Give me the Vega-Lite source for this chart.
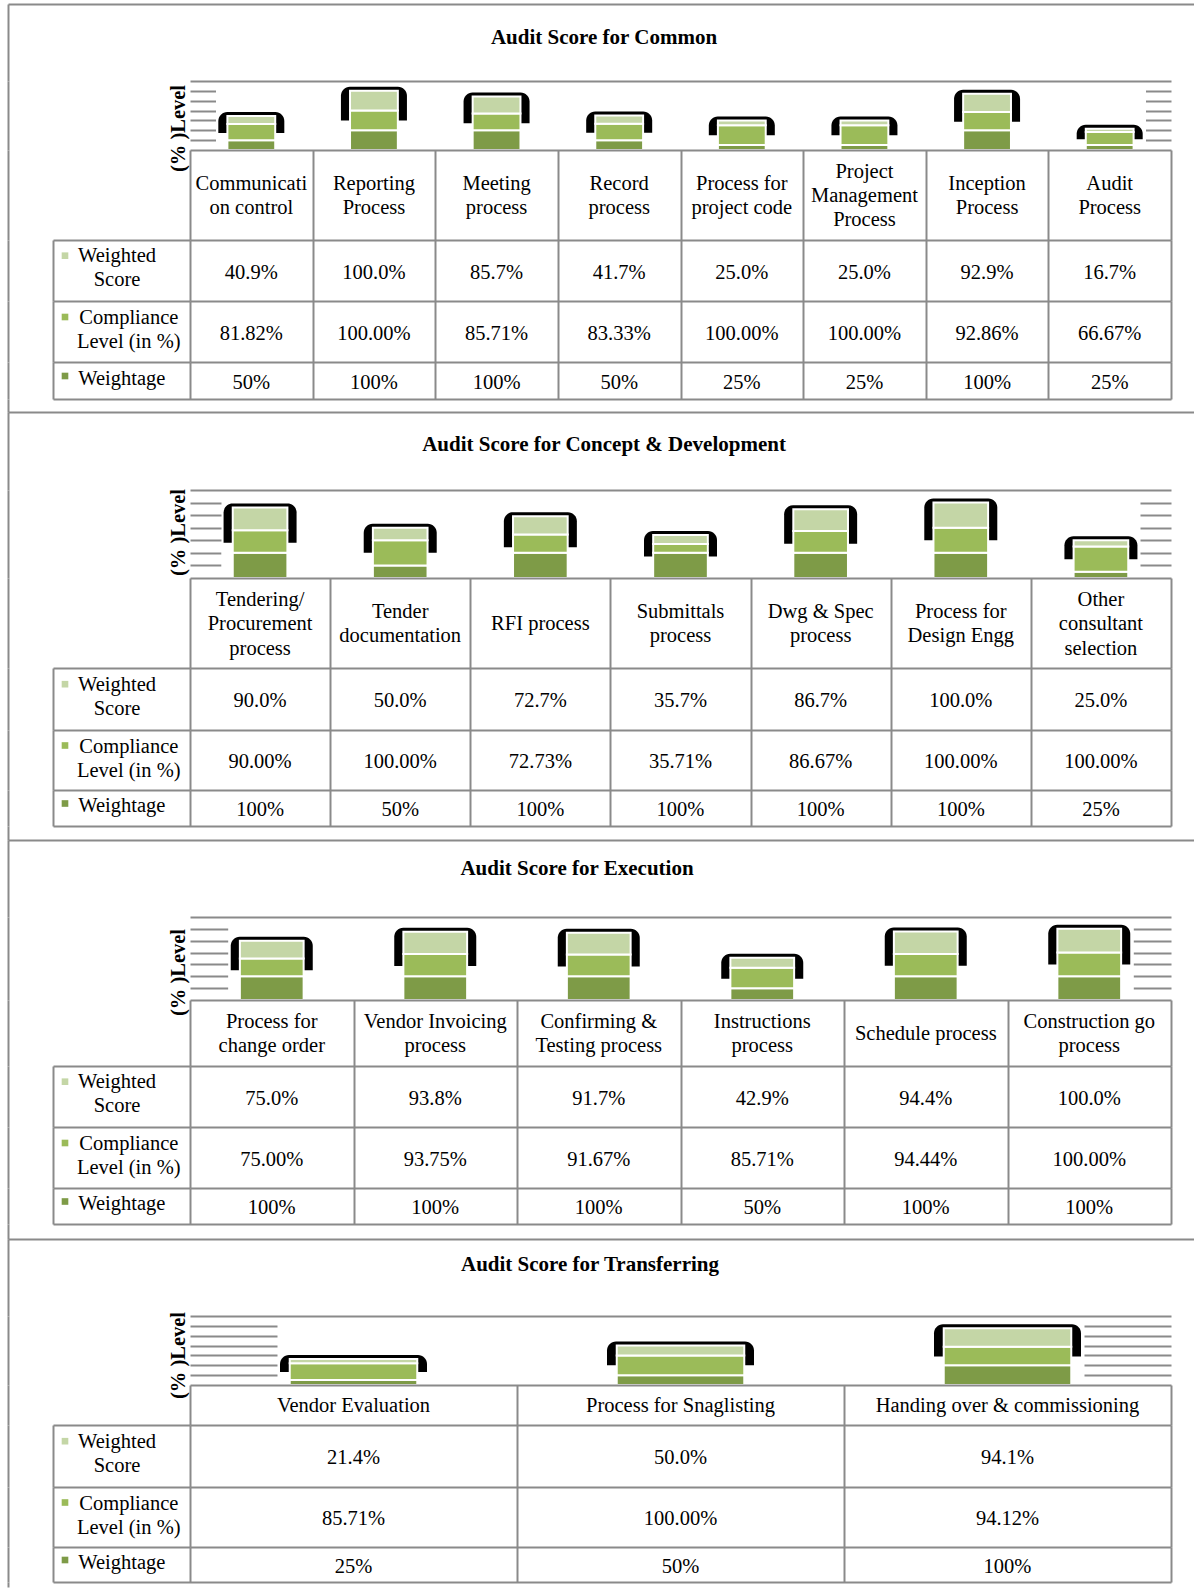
{
"$schema":"https://vega.github.io/schema/vega-lite/v6.json",
"padding":{"left":8,"top":4,"right":0,"bottom":0},
"bounds":"flush",
"spacing":0,
"config":{"view":{"stroke":null},"font":"Liberation Serif","text":{"font":"Liberation Serif","fontSize":20.5,"color":"#000000"},"axis":{"titleFont":"Liberation Serif"}},
"data":{"values":[{}]},
"datasets":{
"common":[
{"cat":"Communication control","measure":"Weightage","rank":1,"v":0.5},{"cat":"Communication control","measure":"Compliance Level (in %)","rank":2,"v":0.8182},{"cat":"Communication control","measure":"Weighted Score","rank":3,"v":0.409},
{"cat":"Reporting Process","measure":"Weightage","rank":1,"v":1},{"cat":"Reporting Process","measure":"Compliance Level (in %)","rank":2,"v":1},{"cat":"Reporting Process","measure":"Weighted Score","rank":3,"v":1},
{"cat":"Meeting process","measure":"Weightage","rank":1,"v":1},{"cat":"Meeting process","measure":"Compliance Level (in %)","rank":2,"v":0.8571},{"cat":"Meeting process","measure":"Weighted Score","rank":3,"v":0.857},
{"cat":"Record process","measure":"Weightage","rank":1,"v":0.5},{"cat":"Record process","measure":"Compliance Level (in %)","rank":2,"v":0.8333},{"cat":"Record process","measure":"Weighted Score","rank":3,"v":0.417},
{"cat":"Process for project code","measure":"Weightage","rank":1,"v":0.25},{"cat":"Process for project code","measure":"Compliance Level (in %)","rank":2,"v":1},{"cat":"Process for project code","measure":"Weighted Score","rank":3,"v":0.25},
{"cat":"Project Management Process","measure":"Weightage","rank":1,"v":0.25},{"cat":"Project Management Process","measure":"Compliance Level (in %)","rank":2,"v":1},{"cat":"Project Management Process","measure":"Weighted Score","rank":3,"v":0.25},
{"cat":"Inception Process","measure":"Weightage","rank":1,"v":1},{"cat":"Inception Process","measure":"Compliance Level (in %)","rank":2,"v":0.9286},{"cat":"Inception Process","measure":"Weighted Score","rank":3,"v":0.929},
{"cat":"Audit Process","measure":"Weightage","rank":1,"v":0.25},{"cat":"Audit Process","measure":"Compliance Level (in %)","rank":2,"v":0.6667},{"cat":"Audit Process","measure":"Weighted Score","rank":3,"v":0.167}
],
"common_h":[
{"cat":"Communication control","label":"Communicati|on control"},{"cat":"Reporting Process","label":"Reporting|Process"},{"cat":"Meeting process","label":"Meeting|process"},{"cat":"Record process","label":"Record|process"},{"cat":"Process for project code","label":"Process  for|project code"},{"cat":"Project Management Process","label":"Project|Management|Process"},{"cat":"Inception Process","label":"Inception|Process"},{"cat":"Audit Process","label":"Audit|Process"}
],
"concept":[
{"cat":"Tendering/Procurement process","measure":"Weightage","rank":1,"v":1},{"cat":"Tendering/Procurement process","measure":"Compliance Level (in %)","rank":2,"v":0.9},{"cat":"Tendering/Procurement process","measure":"Weighted Score","rank":3,"v":0.9},
{"cat":"Tender documentation","measure":"Weightage","rank":1,"v":0.5},{"cat":"Tender documentation","measure":"Compliance Level (in %)","rank":2,"v":1},{"cat":"Tender documentation","measure":"Weighted Score","rank":3,"v":0.5},
{"cat":"RFI process","measure":"Weightage","rank":1,"v":1},{"cat":"RFI process","measure":"Compliance Level (in %)","rank":2,"v":0.7273},{"cat":"RFI process","measure":"Weighted Score","rank":3,"v":0.727},
{"cat":"Submittals process","measure":"Weightage","rank":1,"v":1},{"cat":"Submittals process","measure":"Compliance Level (in %)","rank":2,"v":0.3571},{"cat":"Submittals process","measure":"Weighted Score","rank":3,"v":0.357},
{"cat":"Dwg & Spec process","measure":"Weightage","rank":1,"v":1},{"cat":"Dwg & Spec process","measure":"Compliance Level (in %)","rank":2,"v":0.8667},{"cat":"Dwg & Spec process","measure":"Weighted Score","rank":3,"v":0.867},
{"cat":"Process for Design Engg","measure":"Weightage","rank":1,"v":1},{"cat":"Process for Design Engg","measure":"Compliance Level (in %)","rank":2,"v":1},{"cat":"Process for Design Engg","measure":"Weighted Score","rank":3,"v":1},
{"cat":"Other consultant selection","measure":"Weightage","rank":1,"v":0.25},{"cat":"Other consultant selection","measure":"Compliance Level (in %)","rank":2,"v":1},{"cat":"Other consultant selection","measure":"Weighted Score","rank":3,"v":0.25}
],
"concept_h":[
{"cat":"Tendering/Procurement process","label":"Tendering/|Procurement|process"},{"cat":"Tender documentation","label":"Tender|documentation"},{"cat":"RFI process","label":"RFI process"},{"cat":"Submittals process","label":"Submittals|process"},{"cat":"Dwg & Spec process","label":"Dwg & Spec|process"},{"cat":"Process for Design Engg","label":"Process  for|Design Engg"},{"cat":"Other consultant selection","label":"Other|consultant|selection"}
],
"execution":[
{"cat":"Process for change order","measure":"Weightage","rank":1,"v":1},{"cat":"Process for change order","measure":"Compliance Level (in %)","rank":2,"v":0.75},{"cat":"Process for change order","measure":"Weighted Score","rank":3,"v":0.75},
{"cat":"Vendor Invoicing process","measure":"Weightage","rank":1,"v":1},{"cat":"Vendor Invoicing process","measure":"Compliance Level (in %)","rank":2,"v":0.9375},{"cat":"Vendor Invoicing process","measure":"Weighted Score","rank":3,"v":0.938},
{"cat":"Confirming & Testing process","measure":"Weightage","rank":1,"v":1},{"cat":"Confirming & Testing process","measure":"Compliance Level (in %)","rank":2,"v":0.9167},{"cat":"Confirming & Testing process","measure":"Weighted Score","rank":3,"v":0.917},
{"cat":"Instructions process","measure":"Weightage","rank":1,"v":0.5},{"cat":"Instructions process","measure":"Compliance Level (in %)","rank":2,"v":0.8571},{"cat":"Instructions process","measure":"Weighted Score","rank":3,"v":0.429},
{"cat":"Schedule process","measure":"Weightage","rank":1,"v":1},{"cat":"Schedule process","measure":"Compliance Level (in %)","rank":2,"v":0.9444},{"cat":"Schedule process","measure":"Weighted Score","rank":3,"v":0.944},
{"cat":"Construction go process","measure":"Weightage","rank":1,"v":1},{"cat":"Construction go process","measure":"Compliance Level (in %)","rank":2,"v":1},{"cat":"Construction go process","measure":"Weighted Score","rank":3,"v":1}
],
"execution_h":[
{"cat":"Process for change order","label":"Process  for|change order"},{"cat":"Vendor Invoicing process","label":"Vendor Invoicing|process"},{"cat":"Confirming & Testing process","label":"Confirming &|Testing process"},{"cat":"Instructions process","label":"Instructions|process"},{"cat":"Schedule process","label":"Schedule process"},{"cat":"Construction go process","label":"Construction  go|process"}
],
"transfer":[
{"cat":"Vendor Evaluation","measure":"Weightage","rank":1,"v":0.25},{"cat":"Vendor Evaluation","measure":"Compliance Level (in %)","rank":2,"v":0.8571},{"cat":"Vendor Evaluation","measure":"Weighted Score","rank":3,"v":0.214},
{"cat":"Process for Snaglisting","measure":"Weightage","rank":1,"v":0.5},{"cat":"Process for Snaglisting","measure":"Compliance Level (in %)","rank":2,"v":1},{"cat":"Process for Snaglisting","measure":"Weighted Score","rank":3,"v":0.5},
{"cat":"Handing over & commissioning","measure":"Weightage","rank":1,"v":1},{"cat":"Handing over & commissioning","measure":"Compliance Level (in %)","rank":2,"v":0.9412},{"cat":"Handing over & commissioning","measure":"Weighted Score","rank":3,"v":0.941}
],
"transfer_h":[
{"cat":"Vendor Evaluation","label":"Vendor Evaluation"},{"cat":"Process for Snaglisting","label":"Process for Snaglisting"},{"cat":"Handing over & commissioning","label":"Handing over & commissioning"}
]
},
"vconcat":[
{"width":1186,"height":77,"mark":{"type":"text","text":"Audit Score for Common","fontSize":21,"fontWeight":"bold","dx":3,"dy":-5},"encoding":{"x":{"datum":0.5,"type":"quantitative","scale":{"domain":[0,1]},"axis":{"orient":"top","domainColor":"#8a8a8a","domainWidth":2,"ticks":false,"labels":false,"grid":false,"title":null}},"y":{"datum":0.5,"type":"quantitative","scale":{"domain":[0,1]},"axis":{"orient":"left","domainColor":"#8a8a8a","domainWidth":2,"ticks":false,"labels":false,"grid":false,"title":null}}}},
{"width":1186,"height":69,"layer":[
{"data":{"name":"common"},"mark":{"type":"bar","color":"#000000","width":66,"cornerRadius":9,"yOffset":-4},"encoding":{"x":{"field":"cat","type":"nominal","sort":null,"scale":{"range":[182,1163],"paddingInner":0.61,"paddingOuter":0.305},"axis":{"orient":"top","domainColor":"#8a8a8a","domainWidth":2,"ticks":false,"labels":false,"grid":false,"title":null}},"y":{"aggregate":"sum","field":"v","type":"quantitative","scale":{"domain":[0,3.5],"nice":false},"axis":{"orient":"left","offset":-182,"values":[0.5,1,1.5,2,2.5,3],"tickSize":-25.5,"tickColor":"#8a8a8a","tickWidth":2,"labels":false,"domain":false,"grid":false,"title":"(% )Level","titleFontSize":20.5,"titleFontWeight":"bold","titleColor":"#000000","titleAngle":270,"titleX":-6,"titleY":47,"titleBaseline":"alphabetic","titleAlign":"center"}}}},
{"data":{"name":"common"},"mark":{"type":"bar","color":"#ffffff","width":70,"y2Offset":-3},"encoding":{"x":{"field":"cat","type":"nominal","sort":null,"scale":{"range":[182,1163],"paddingInner":0.61,"paddingOuter":0.305},"axis":{"orient":"top","domainColor":"#8a8a8a","domainWidth":2,"ticks":false,"labels":false,"grid":false,"title":null}},"y":{"aggregate":"sum","field":"v","type":"quantitative","scale":{"domain":[0,7],"nice":false},"axis":{"orient":"left","domainColor":"#8a8a8a","domainWidth":2,"ticks":false,"labels":false,"grid":false,"title":null}}}},
{"data":{"name":"common"},"mark":{"type":"bar","stroke":"#ffffff","strokeWidth":2},"encoding":{"x":{"field":"cat","type":"nominal","sort":null,"scale":{"range":[182,1163],"paddingInner":0.61,"paddingOuter":0.305},"axis":{"orient":"top","domainColor":"#8a8a8a","domainWidth":2,"ticks":false,"labels":false,"grid":false,"title":null}},"y":{"field":"v","type":"quantitative","stack":"zero","scale":{"domain":[0,3.5],"nice":false},"axis":{"orient":"right","offset":-23,"values":[0.5,1,1.5,2,2.5,3],"tickSize":-25.5,"tickColor":"#8a8a8a","tickWidth":2,"labels":false,"domain":false,"grid":false,"title":null}},"color":{"field":"measure","type":"nominal","scale":{"domain":["Weighted Score","Compliance Level (in %)","Weightage"],"range":["#C4D6A6","#9BBB59","#7E9B47"]},"legend":null},"order":{"field":"rank","type":"quantitative"}}}
],"resolve":{"scale":{"y":"independent"},"axis":{"y":"independent"}}},
{"width":1186,"height":90,"data":{"name":"common_h"},"encoding":{"x":{"field":"cat","type":"nominal","scale":{"domain":["Communication control","Reporting Process","Meeting process","Record process","Process for project code","Project Management Process","Inception Process","Audit Process"],"range":[182,1163]},"axis":{"orient":"top","tickBand":"extent","grid":true,"gridColor":"#8a8a8a","gridWidth":2,"ticks":false,"labels":false,"domain":true,"domainColor":"#8a8a8a","domainWidth":2,"title":null}},"y":{"datum":0.5,"type":"quantitative","scale":{"domain":[0,1]},"axis":{"orient":"left","domainColor":"#8a8a8a","domainWidth":2,"ticks":false,"labels":false,"grid":false,"title":null}},"text":{"field":"label"}},"layer":[
{"transform":[{"filter":"length(split(datum.label,'|')) == 1"}],"mark":{"type":"text","lineBreak":"|","lineHeight":24,"dy":1}},
{"transform":[{"filter":"length(split(datum.label,'|')) == 2"}],"mark":{"type":"text","lineBreak":"|","lineHeight":24,"dy":-11}},
{"transform":[{"filter":"length(split(datum.label,'|')) == 3"}],"mark":{"type":"text","lineBreak":"|","lineHeight":24,"dy":-23}}
]},
{"width":1186,"height":61,"layer":[
{"data":{"name":"common"},"transform":[{"filter":"datum.measure === 'Weighted Score'"}],"mark":{"type":"text","dy":2},"encoding":{"x":{"field":"cat","type":"nominal","sort":null,"scale":{"range":[182,1163]},"axis":{"orient":"top","tickBand":"extent","grid":true,"gridColor":"#8a8a8a","gridWidth":2,"ticks":false,"labels":false,"domain":true,"domainColor":"#8a8a8a","domainWidth":2,"title":null}},"y":{"datum":0.5,"type":"quantitative","scale":{"domain":[0,1]},"axis":{"orient":"left","domainColor":"#8a8a8a","domainWidth":2,"ticks":false,"labels":false,"grid":false,"title":null}},"text":{"field":"v","type":"quantitative","format":".1%"}}},
{"mark":{"type":"text","text":"Weighted|Score","lineBreak":"|","lineHeight":24,"dx":-4.5,"dy":-14.5},"encoding":{"x":{"datum":0.5,"type":"quantitative","scale":{"domain":[0,1],"range":[45,182]},"axis":{"orient":"top","domainColor":"#8a8a8a","domainWidth":2,"ticks":false,"labels":false,"grid":false,"title":null}},"y":{"datum":0.5,"type":"quantitative","scale":{"domain":[0,1]},"axis":{"orient":"left","offset":-45,"domainColor":"#8a8a8a","domainWidth":2,"ticks":false,"labels":false,"grid":false,"title":null}}}},
{"mark":{"type":"square","size":44,"color":"#C4D6A6","opacity":1,"xOffset":-56.5,"yOffset":-14.8},"encoding":{"x":{"datum":0.5,"type":"quantitative","scale":{"domain":[0,1],"range":[45,182]},"axis":null},"y":{"datum":0.5,"type":"quantitative","scale":{"domain":[0,1]},"axis":null}}}
],"resolve":{"scale":{"x":"independent","y":"independent"},"axis":{"x":"independent","y":"independent"}}},
{"width":1186,"height":61,"layer":[
{"data":{"name":"common"},"transform":[{"filter":"datum.measure === 'Compliance Level (in %)'"}],"mark":{"type":"text","dy":2},"encoding":{"x":{"field":"cat","type":"nominal","sort":null,"scale":{"range":[182,1163]},"axis":{"orient":"top","tickBand":"extent","grid":true,"gridColor":"#8a8a8a","gridWidth":2,"ticks":false,"labels":false,"domain":true,"domainColor":"#8a8a8a","domainWidth":2,"title":null}},"y":{"datum":0.5,"type":"quantitative","scale":{"domain":[0,1]},"axis":{"orient":"left","domainColor":"#8a8a8a","domainWidth":2,"ticks":false,"labels":false,"grid":false,"title":null}},"text":{"field":"v","type":"quantitative","format":".2%"}}},
{"mark":{"type":"text","text":"Compliance|Level (in %)","lineBreak":"|","lineHeight":24,"dx":7.3,"dy":-13.5},"encoding":{"x":{"datum":0.5,"type":"quantitative","scale":{"domain":[0,1],"range":[45,182]},"axis":{"orient":"top","domainColor":"#8a8a8a","domainWidth":2,"ticks":false,"labels":false,"grid":false,"title":null}},"y":{"datum":0.5,"type":"quantitative","scale":{"domain":[0,1]},"axis":{"orient":"left","offset":-45,"domainColor":"#8a8a8a","domainWidth":2,"ticks":false,"labels":false,"grid":false,"title":null}}}},
{"mark":{"type":"square","size":44,"color":"#9BBB59","opacity":1,"xOffset":-56.5,"yOffset":-14.5},"encoding":{"x":{"datum":0.5,"type":"quantitative","scale":{"domain":[0,1],"range":[45,182]},"axis":null},"y":{"datum":0.5,"type":"quantitative","scale":{"domain":[0,1]},"axis":null}}}
],"resolve":{"scale":{"x":"independent","y":"independent"},"axis":{"x":"independent","y":"independent"}}},
{"width":1186,"height":37,"layer":[
{"data":{"name":"common"},"transform":[{"filter":"datum.measure === 'Weightage'"}],"mark":{"type":"text","dy":2},"encoding":{"x":{"field":"cat","type":"nominal","sort":null,"scale":{"range":[182,1163]},"axis":{"orient":"top","tickBand":"extent","grid":true,"gridColor":"#8a8a8a","gridWidth":2,"ticks":false,"labels":false,"domain":true,"domainColor":"#8a8a8a","domainWidth":2,"title":null}},"y":{"datum":0.5,"type":"quantitative","scale":{"domain":[0,1]},"axis":{"orient":"left","domainColor":"#8a8a8a","domainWidth":2,"ticks":false,"labels":false,"grid":false,"title":null}},"text":{"field":"v","type":"quantitative","format":".0%"}}},
{"mark":{"type":"text","text":"Weightage","dx":0.3,"dy":-2},"encoding":{"x":{"datum":0.5,"type":"quantitative","scale":{"domain":[0,1],"range":[45,182]},"axis":{"orient":"top","domainColor":"#8a8a8a","domainWidth":2,"ticks":false,"labels":false,"grid":false,"title":null}},"y":{"datum":0.5,"type":"quantitative","scale":{"domain":[0,1]},"axis":{"orient":"left","offset":-45,"domainColor":"#8a8a8a","domainWidth":2,"ticks":false,"labels":false,"grid":false,"title":null}}}},
{"mark":{"type":"square","size":44,"color":"#7E9B47","opacity":1,"xOffset":-56.5,"yOffset":-4.5},"encoding":{"x":{"datum":0.5,"type":"quantitative","scale":{"domain":[0,1],"range":[45,182]},"axis":null},"y":{"datum":0.5,"type":"quantitative","scale":{"domain":[0,1]},"axis":null}}}
],"resolve":{"scale":{"x":"independent","y":"independent"},"axis":{"x":"independent","y":"independent"}}},
{"width":1186,"height":13,"mark":{"type":"point","opacity":0},"encoding":{"x":{"datum":0,"type":"quantitative","scale":{"domain":[0,1],"range":[45,1163]},"axis":{"orient":"top","domainColor":"#8a8a8a","domainWidth":2,"ticks":false,"labels":false,"grid":false,"title":null}},"y":{"datum":0,"type":"quantitative","scale":{"domain":[0,1]},"axis":{"orient":"left","domainColor":"#8a8a8a","domainWidth":2,"ticks":false,"labels":false,"grid":false,"title":null}}}},

{"width":1186,"height":78,"mark":{"type":"text","text":"Audit Score for Concept & Development","fontSize":21,"fontWeight":"bold","dx":3,"dy":-6},"encoding":{"x":{"datum":0.5,"type":"quantitative","scale":{"domain":[0,1]},"axis":{"orient":"top","domainColor":"#8a8a8a","domainWidth":2,"ticks":false,"labels":false,"grid":false,"title":null}},"y":{"datum":0.5,"type":"quantitative","scale":{"domain":[0,1]},"axis":{"orient":"left","domainColor":"#8a8a8a","domainWidth":2,"ticks":false,"labels":false,"grid":false,"title":null}}}},
{"width":1186,"height":88,"layer":[
{"data":{"name":"concept"},"mark":{"type":"bar","color":"#000000","width":73,"cornerRadius":9,"yOffset":-4},"encoding":{"x":{"field":"cat","type":"nominal","sort":null,"scale":{"range":[182,1163],"paddingInner":0.61,"paddingOuter":0.305},"axis":{"orient":"top","domainColor":"#8a8a8a","domainWidth":2,"ticks":false,"labels":false,"grid":false,"title":null}},"y":{"aggregate":"sum","field":"v","type":"quantitative","scale":{"domain":[0,3.5],"nice":false},"axis":{"orient":"left","offset":-182,"values":[0.5,1,1.5,2,2.5,3],"tickSize":-31,"tickColor":"#8a8a8a","tickWidth":2,"labels":false,"domain":false,"grid":false,"title":"(% )Level","titleFontSize":20.5,"titleFontWeight":"bold","titleColor":"#000000","titleAngle":270,"titleX":-6,"titleY":42,"titleBaseline":"alphabetic","titleAlign":"center"}}}},
{"data":{"name":"concept"},"mark":{"type":"bar","color":"#ffffff","width":77,"y2Offset":-3},"encoding":{"x":{"field":"cat","type":"nominal","sort":null,"scale":{"range":[182,1163],"paddingInner":0.61,"paddingOuter":0.305},"axis":{"orient":"top","domainColor":"#8a8a8a","domainWidth":2,"ticks":false,"labels":false,"grid":false,"title":null}},"y":{"aggregate":"sum","field":"v","type":"quantitative","scale":{"domain":[0,7],"nice":false},"axis":{"orient":"left","domainColor":"#8a8a8a","domainWidth":2,"ticks":false,"labels":false,"grid":false,"title":null}}}},
{"data":{"name":"concept"},"mark":{"type":"bar","stroke":"#ffffff","strokeWidth":2},"encoding":{"x":{"field":"cat","type":"nominal","sort":null,"scale":{"range":[182,1163],"paddingInner":0.61,"paddingOuter":0.305},"axis":{"orient":"top","domainColor":"#8a8a8a","domainWidth":2,"ticks":false,"labels":false,"grid":false,"title":null}},"y":{"field":"v","type":"quantitative","stack":"zero","scale":{"domain":[0,3.5],"nice":false},"axis":{"orient":"right","offset":-23,"values":[0.5,1,1.5,2,2.5,3],"tickSize":-31,"tickColor":"#8a8a8a","tickWidth":2,"labels":false,"domain":false,"grid":false,"title":null}},"color":{"field":"measure","type":"nominal","scale":{"domain":["Weighted Score","Compliance Level (in %)","Weightage"],"range":["#C4D6A6","#9BBB59","#7E9B47"]},"legend":null},"order":{"field":"rank","type":"quantitative"}}}
],"resolve":{"scale":{"y":"independent"},"axis":{"y":"independent"}}},
{"width":1186,"height":90,"data":{"name":"concept_h"},"encoding":{"x":{"field":"cat","type":"nominal","scale":{"domain":["Tendering/Procurement process","Tender documentation","RFI process","Submittals process","Dwg & Spec process","Process for Design Engg","Other consultant selection"],"range":[182,1163]},"axis":{"orient":"top","tickBand":"extent","grid":true,"gridColor":"#8a8a8a","gridWidth":2,"ticks":false,"labels":false,"domain":true,"domainColor":"#8a8a8a","domainWidth":2,"title":null}},"y":{"datum":0.5,"type":"quantitative","scale":{"domain":[0,1]},"axis":{"orient":"left","domainColor":"#8a8a8a","domainWidth":2,"ticks":false,"labels":false,"grid":false,"title":null}},"text":{"field":"label"}},"layer":[
{"transform":[{"filter":"length(split(datum.label,'|')) == 1"}],"mark":{"type":"text","lineBreak":"|","lineHeight":24,"dy":1}},
{"transform":[{"filter":"length(split(datum.label,'|')) == 2"}],"mark":{"type":"text","lineBreak":"|","lineHeight":24,"dy":-11}},
{"transform":[{"filter":"length(split(datum.label,'|')) == 3"}],"mark":{"type":"text","lineBreak":"|","lineHeight":24.5,"dy":-23.5}}
]},
{"width":1186,"height":62,"layer":[
{"data":{"name":"concept"},"transform":[{"filter":"datum.measure === 'Weighted Score'"}],"mark":{"type":"text","dy":2},"encoding":{"x":{"field":"cat","type":"nominal","sort":null,"scale":{"range":[182,1163]},"axis":{"orient":"top","tickBand":"extent","grid":true,"gridColor":"#8a8a8a","gridWidth":2,"ticks":false,"labels":false,"domain":true,"domainColor":"#8a8a8a","domainWidth":2,"title":null}},"y":{"datum":0.5,"type":"quantitative","scale":{"domain":[0,1]},"axis":{"orient":"left","domainColor":"#8a8a8a","domainWidth":2,"ticks":false,"labels":false,"grid":false,"title":null}},"text":{"field":"v","type":"quantitative","format":".1%"}}},
{"mark":{"type":"text","text":"Weighted|Score","lineBreak":"|","lineHeight":24,"dx":-4.5,"dy":-14.5},"encoding":{"x":{"datum":0.5,"type":"quantitative","scale":{"domain":[0,1],"range":[45,182]},"axis":{"orient":"top","domainColor":"#8a8a8a","domainWidth":2,"ticks":false,"labels":false,"grid":false,"title":null}},"y":{"datum":0.5,"type":"quantitative","scale":{"domain":[0,1]},"axis":{"orient":"left","offset":-45,"domainColor":"#8a8a8a","domainWidth":2,"ticks":false,"labels":false,"grid":false,"title":null}}}},
{"mark":{"type":"square","size":44,"color":"#C4D6A6","opacity":1,"xOffset":-56.5,"yOffset":-14.8},"encoding":{"x":{"datum":0.5,"type":"quantitative","scale":{"domain":[0,1],"range":[45,182]},"axis":null},"y":{"datum":0.5,"type":"quantitative","scale":{"domain":[0,1]},"axis":null}}}
],"resolve":{"scale":{"x":"independent","y":"independent"},"axis":{"x":"independent","y":"independent"}}},
{"width":1186,"height":60,"layer":[
{"data":{"name":"concept"},"transform":[{"filter":"datum.measure === 'Compliance Level (in %)'"}],"mark":{"type":"text","dy":2},"encoding":{"x":{"field":"cat","type":"nominal","sort":null,"scale":{"range":[182,1163]},"axis":{"orient":"top","tickBand":"extent","grid":true,"gridColor":"#8a8a8a","gridWidth":2,"ticks":false,"labels":false,"domain":true,"domainColor":"#8a8a8a","domainWidth":2,"title":null}},"y":{"datum":0.5,"type":"quantitative","scale":{"domain":[0,1]},"axis":{"orient":"left","domainColor":"#8a8a8a","domainWidth":2,"ticks":false,"labels":false,"grid":false,"title":null}},"text":{"field":"v","type":"quantitative","format":".2%"}}},
{"mark":{"type":"text","text":"Compliance|Level (in %)","lineBreak":"|","lineHeight":24,"dx":7.3,"dy":-13.5},"encoding":{"x":{"datum":0.5,"type":"quantitative","scale":{"domain":[0,1],"range":[45,182]},"axis":{"orient":"top","domainColor":"#8a8a8a","domainWidth":2,"ticks":false,"labels":false,"grid":false,"title":null}},"y":{"datum":0.5,"type":"quantitative","scale":{"domain":[0,1]},"axis":{"orient":"left","offset":-45,"domainColor":"#8a8a8a","domainWidth":2,"ticks":false,"labels":false,"grid":false,"title":null}}}},
{"mark":{"type":"square","size":44,"color":"#9BBB59","opacity":1,"xOffset":-56.5,"yOffset":-14.5},"encoding":{"x":{"datum":0.5,"type":"quantitative","scale":{"domain":[0,1],"range":[45,182]},"axis":null},"y":{"datum":0.5,"type":"quantitative","scale":{"domain":[0,1]},"axis":null}}}
],"resolve":{"scale":{"x":"independent","y":"independent"},"axis":{"x":"independent","y":"independent"}}},
{"width":1186,"height":36,"layer":[
{"data":{"name":"concept"},"transform":[{"filter":"datum.measure === 'Weightage'"}],"mark":{"type":"text","dy":2},"encoding":{"x":{"field":"cat","type":"nominal","sort":null,"scale":{"range":[182,1163]},"axis":{"orient":"top","tickBand":"extent","grid":true,"gridColor":"#8a8a8a","gridWidth":2,"ticks":false,"labels":false,"domain":true,"domainColor":"#8a8a8a","domainWidth":2,"title":null}},"y":{"datum":0.5,"type":"quantitative","scale":{"domain":[0,1]},"axis":{"orient":"left","domainColor":"#8a8a8a","domainWidth":2,"ticks":false,"labels":false,"grid":false,"title":null}},"text":{"field":"v","type":"quantitative","format":".0%"}}},
{"mark":{"type":"text","text":"Weightage","dx":0.3,"dy":-2},"encoding":{"x":{"datum":0.5,"type":"quantitative","scale":{"domain":[0,1],"range":[45,182]},"axis":{"orient":"top","domainColor":"#8a8a8a","domainWidth":2,"ticks":false,"labels":false,"grid":false,"title":null}},"y":{"datum":0.5,"type":"quantitative","scale":{"domain":[0,1]},"axis":{"orient":"left","offset":-45,"domainColor":"#8a8a8a","domainWidth":2,"ticks":false,"labels":false,"grid":false,"title":null}}}},
{"mark":{"type":"square","size":44,"color":"#7E9B47","opacity":1,"xOffset":-56.5,"yOffset":-4.5},"encoding":{"x":{"datum":0.5,"type":"quantitative","scale":{"domain":[0,1],"range":[45,182]},"axis":null},"y":{"datum":0.5,"type":"quantitative","scale":{"domain":[0,1]},"axis":null}}}
],"resolve":{"scale":{"x":"independent","y":"independent"},"axis":{"x":"independent","y":"independent"}}},
{"width":1186,"height":14,"mark":{"type":"point","opacity":0},"encoding":{"x":{"datum":0,"type":"quantitative","scale":{"domain":[0,1],"range":[45,1163]},"axis":{"orient":"top","domainColor":"#8a8a8a","domainWidth":2,"ticks":false,"labels":false,"grid":false,"title":null}},"y":{"datum":0,"type":"quantitative","scale":{"domain":[0,1]},"axis":{"orient":"left","domainColor":"#8a8a8a","domainWidth":2,"ticks":false,"labels":false,"grid":false,"title":null}}}},

{"width":1186,"height":77,"mark":{"type":"text","text":"Audit Score for Execution","fontSize":21,"fontWeight":"bold","dx":-24,"dy":-10},"encoding":{"x":{"datum":0.5,"type":"quantitative","scale":{"domain":[0,1]},"axis":{"orient":"top","domainColor":"#8a8a8a","domainWidth":2,"ticks":false,"labels":false,"grid":false,"title":null}},"y":{"datum":0.5,"type":"quantitative","scale":{"domain":[0,1]},"axis":{"orient":"left","domainColor":"#8a8a8a","domainWidth":2,"ticks":false,"labels":false,"grid":false,"title":null}}}},
{"width":1186,"height":83,"layer":[
{"data":{"name":"execution"},"mark":{"type":"bar","color":"#000000","width":82,"cornerRadius":9,"yOffset":-4},"encoding":{"x":{"field":"cat","type":"nominal","sort":null,"scale":{"range":[182,1163],"paddingInner":0.61,"paddingOuter":0.305},"axis":{"orient":"top","domainColor":"#8a8a8a","domainWidth":2,"ticks":false,"labels":false,"grid":false,"title":null}},"y":{"aggregate":"sum","field":"v","type":"quantitative","scale":{"domain":[0,3.5],"nice":false},"axis":{"orient":"left","offset":-182,"values":[0.5,1,1.5,2,2.5,3],"tickSize":-37.7,"tickColor":"#8a8a8a","tickWidth":2,"labels":false,"domain":false,"grid":false,"title":"(% )Level","titleFontSize":20.5,"titleFontWeight":"bold","titleColor":"#000000","titleAngle":270,"titleX":-6,"titleY":55,"titleBaseline":"alphabetic","titleAlign":"center"}}}},
{"data":{"name":"execution"},"mark":{"type":"bar","color":"#ffffff","width":86,"y2Offset":-3},"encoding":{"x":{"field":"cat","type":"nominal","sort":null,"scale":{"range":[182,1163],"paddingInner":0.61,"paddingOuter":0.305},"axis":{"orient":"top","domainColor":"#8a8a8a","domainWidth":2,"ticks":false,"labels":false,"grid":false,"title":null}},"y":{"aggregate":"sum","field":"v","type":"quantitative","scale":{"domain":[0,7],"nice":false},"axis":{"orient":"left","domainColor":"#8a8a8a","domainWidth":2,"ticks":false,"labels":false,"grid":false,"title":null}}}},
{"data":{"name":"execution"},"mark":{"type":"bar","stroke":"#ffffff","strokeWidth":2},"encoding":{"x":{"field":"cat","type":"nominal","sort":null,"scale":{"range":[182,1163],"paddingInner":0.61,"paddingOuter":0.305},"axis":{"orient":"top","domainColor":"#8a8a8a","domainWidth":2,"ticks":false,"labels":false,"grid":false,"title":null}},"y":{"field":"v","type":"quantitative","stack":"zero","scale":{"domain":[0,3.5],"nice":false},"axis":{"orient":"right","offset":-23,"values":[0.5,1,1.5,2,2.5,3],"tickSize":-37.7,"tickColor":"#8a8a8a","tickWidth":2,"labels":false,"domain":false,"grid":false,"title":null}},"color":{"field":"measure","type":"nominal","scale":{"domain":["Weighted Score","Compliance Level (in %)","Weightage"],"range":["#C4D6A6","#9BBB59","#7E9B47"]},"legend":null},"order":{"field":"rank","type":"quantitative"}}}
],"resolve":{"scale":{"y":"independent"},"axis":{"y":"independent"}}},
{"width":1186,"height":66,"data":{"name":"execution_h"},"encoding":{"x":{"field":"cat","type":"nominal","scale":{"domain":["Process for change order","Vendor Invoicing process","Confirming & Testing process","Instructions process","Schedule process","Construction go process"],"range":[182,1163]},"axis":{"orient":"top","tickBand":"extent","grid":true,"gridColor":"#8a8a8a","gridWidth":2,"ticks":false,"labels":false,"domain":true,"domainColor":"#8a8a8a","domainWidth":2,"title":null}},"y":{"datum":0.5,"type":"quantitative","scale":{"domain":[0,1]},"axis":{"orient":"left","domainColor":"#8a8a8a","domainWidth":2,"ticks":false,"labels":false,"grid":false,"title":null}},"text":{"field":"label"}},"layer":[
{"transform":[{"filter":"length(split(datum.label,'|')) == 1"}],"mark":{"type":"text","lineBreak":"|","lineHeight":24,"dy":1}},
{"transform":[{"filter":"length(split(datum.label,'|')) == 2"}],"mark":{"type":"text","lineBreak":"|","lineHeight":24,"dy":-11}}
]},
{"width":1186,"height":61,"layer":[
{"data":{"name":"execution"},"transform":[{"filter":"datum.measure === 'Weighted Score'"}],"mark":{"type":"text","dy":2},"encoding":{"x":{"field":"cat","type":"nominal","sort":null,"scale":{"range":[182,1163]},"axis":{"orient":"top","tickBand":"extent","grid":true,"gridColor":"#8a8a8a","gridWidth":2,"ticks":false,"labels":false,"domain":true,"domainColor":"#8a8a8a","domainWidth":2,"title":null}},"y":{"datum":0.5,"type":"quantitative","scale":{"domain":[0,1]},"axis":{"orient":"left","domainColor":"#8a8a8a","domainWidth":2,"ticks":false,"labels":false,"grid":false,"title":null}},"text":{"field":"v","type":"quantitative","format":".1%"}}},
{"mark":{"type":"text","text":"Weighted|Score","lineBreak":"|","lineHeight":24,"dx":-4.5,"dy":-14.5},"encoding":{"x":{"datum":0.5,"type":"quantitative","scale":{"domain":[0,1],"range":[45,182]},"axis":{"orient":"top","domainColor":"#8a8a8a","domainWidth":2,"ticks":false,"labels":false,"grid":false,"title":null}},"y":{"datum":0.5,"type":"quantitative","scale":{"domain":[0,1]},"axis":{"orient":"left","offset":-45,"domainColor":"#8a8a8a","domainWidth":2,"ticks":false,"labels":false,"grid":false,"title":null}}}},
{"mark":{"type":"square","size":44,"color":"#C4D6A6","opacity":1,"xOffset":-56.5,"yOffset":-14.8},"encoding":{"x":{"datum":0.5,"type":"quantitative","scale":{"domain":[0,1],"range":[45,182]},"axis":null},"y":{"datum":0.5,"type":"quantitative","scale":{"domain":[0,1]},"axis":null}}}
],"resolve":{"scale":{"x":"independent","y":"independent"},"axis":{"x":"independent","y":"independent"}}},
{"width":1186,"height":61,"layer":[
{"data":{"name":"execution"},"transform":[{"filter":"datum.measure === 'Compliance Level (in %)'"}],"mark":{"type":"text","dy":2},"encoding":{"x":{"field":"cat","type":"nominal","sort":null,"scale":{"range":[182,1163]},"axis":{"orient":"top","tickBand":"extent","grid":true,"gridColor":"#8a8a8a","gridWidth":2,"ticks":false,"labels":false,"domain":true,"domainColor":"#8a8a8a","domainWidth":2,"title":null}},"y":{"datum":0.5,"type":"quantitative","scale":{"domain":[0,1]},"axis":{"orient":"left","domainColor":"#8a8a8a","domainWidth":2,"ticks":false,"labels":false,"grid":false,"title":null}},"text":{"field":"v","type":"quantitative","format":".2%"}}},
{"mark":{"type":"text","text":"Compliance|Level (in %)","lineBreak":"|","lineHeight":24,"dx":7.3,"dy":-13.5},"encoding":{"x":{"datum":0.5,"type":"quantitative","scale":{"domain":[0,1],"range":[45,182]},"axis":{"orient":"top","domainColor":"#8a8a8a","domainWidth":2,"ticks":false,"labels":false,"grid":false,"title":null}},"y":{"datum":0.5,"type":"quantitative","scale":{"domain":[0,1]},"axis":{"orient":"left","offset":-45,"domainColor":"#8a8a8a","domainWidth":2,"ticks":false,"labels":false,"grid":false,"title":null}}}},
{"mark":{"type":"square","size":44,"color":"#9BBB59","opacity":1,"xOffset":-56.5,"yOffset":-14.5},"encoding":{"x":{"datum":0.5,"type":"quantitative","scale":{"domain":[0,1],"range":[45,182]},"axis":null},"y":{"datum":0.5,"type":"quantitative","scale":{"domain":[0,1]},"axis":null}}}
],"resolve":{"scale":{"x":"independent","y":"independent"},"axis":{"x":"independent","y":"independent"}}},
{"width":1186,"height":36,"layer":[
{"data":{"name":"execution"},"transform":[{"filter":"datum.measure === 'Weightage'"}],"mark":{"type":"text","dy":2},"encoding":{"x":{"field":"cat","type":"nominal","sort":null,"scale":{"range":[182,1163]},"axis":{"orient":"top","tickBand":"extent","grid":true,"gridColor":"#8a8a8a","gridWidth":2,"ticks":false,"labels":false,"domain":true,"domainColor":"#8a8a8a","domainWidth":2,"title":null}},"y":{"datum":0.5,"type":"quantitative","scale":{"domain":[0,1]},"axis":{"orient":"left","domainColor":"#8a8a8a","domainWidth":2,"ticks":false,"labels":false,"grid":false,"title":null}},"text":{"field":"v","type":"quantitative","format":".0%"}}},
{"mark":{"type":"text","text":"Weightage","dx":0.3,"dy":-2},"encoding":{"x":{"datum":0.5,"type":"quantitative","scale":{"domain":[0,1],"range":[45,182]},"axis":{"orient":"top","domainColor":"#8a8a8a","domainWidth":2,"ticks":false,"labels":false,"grid":false,"title":null}},"y":{"datum":0.5,"type":"quantitative","scale":{"domain":[0,1]},"axis":{"orient":"left","offset":-45,"domainColor":"#8a8a8a","domainWidth":2,"ticks":false,"labels":false,"grid":false,"title":null}}}},
{"mark":{"type":"square","size":44,"color":"#7E9B47","opacity":1,"xOffset":-56.5,"yOffset":-4.5},"encoding":{"x":{"datum":0.5,"type":"quantitative","scale":{"domain":[0,1],"range":[45,182]},"axis":null},"y":{"datum":0.5,"type":"quantitative","scale":{"domain":[0,1]},"axis":null}}}
],"resolve":{"scale":{"x":"independent","y":"independent"},"axis":{"x":"independent","y":"independent"}}},
{"width":1186,"height":15,"mark":{"type":"point","opacity":0},"encoding":{"x":{"datum":0,"type":"quantitative","scale":{"domain":[0,1],"range":[45,1163]},"axis":{"orient":"top","domainColor":"#8a8a8a","domainWidth":2,"ticks":false,"labels":false,"grid":false,"title":null}},"y":{"datum":0,"type":"quantitative","scale":{"domain":[0,1]},"axis":{"orient":"left","domainColor":"#8a8a8a","domainWidth":2,"ticks":false,"labels":false,"grid":false,"title":null}}}},

{"width":1186,"height":77,"mark":{"type":"text","text":"Audit Score for Transferring","fontSize":21,"fontWeight":"bold","dx":-11,"dy":-12.5},"encoding":{"x":{"datum":0.5,"type":"quantitative","scale":{"domain":[0,1]},"axis":{"orient":"top","domainColor":"#8a8a8a","domainWidth":2,"ticks":false,"labels":false,"grid":false,"title":null}},"y":{"datum":0.5,"type":"quantitative","scale":{"domain":[0,1]},"axis":{"orient":"left","domainColor":"#8a8a8a","domainWidth":2,"ticks":false,"labels":false,"grid":false,"title":null}}}},
{"width":1186,"height":69,"layer":[
{"data":{"name":"transfer"},"mark":{"type":"bar","color":"#000000","width":147,"cornerRadius":9,"yOffset":-4},"encoding":{"x":{"field":"cat","type":"nominal","sort":null,"scale":{"range":[182,1163],"paddingInner":0.61,"paddingOuter":0.305},"axis":{"orient":"top","domainColor":"#8a8a8a","domainWidth":2,"ticks":false,"labels":false,"grid":false,"title":null}},"y":{"aggregate":"sum","field":"v","type":"quantitative","scale":{"domain":[0,3.5],"nice":false},"axis":{"orient":"left","offset":-182,"values":[0.5,1,1.5,2,2.5,3],"tickSize":-87,"tickColor":"#8a8a8a","tickWidth":2,"labels":false,"domain":false,"grid":false,"title":"(% )Level","titleFontSize":20.5,"titleFontWeight":"bold","titleColor":"#000000","titleAngle":270,"titleX":-6,"titleY":39,"titleBaseline":"alphabetic","titleAlign":"center"}}}},
{"data":{"name":"transfer"},"mark":{"type":"bar","color":"#ffffff","width":151,"y2Offset":-3},"encoding":{"x":{"field":"cat","type":"nominal","sort":null,"scale":{"range":[182,1163],"paddingInner":0.61,"paddingOuter":0.305},"axis":{"orient":"top","domainColor":"#8a8a8a","domainWidth":2,"ticks":false,"labels":false,"grid":false,"title":null}},"y":{"aggregate":"sum","field":"v","type":"quantitative","scale":{"domain":[0,7],"nice":false},"axis":{"orient":"left","domainColor":"#8a8a8a","domainWidth":2,"ticks":false,"labels":false,"grid":false,"title":null}}}},
{"data":{"name":"transfer"},"mark":{"type":"bar","stroke":"#ffffff","strokeWidth":2},"encoding":{"x":{"field":"cat","type":"nominal","sort":null,"scale":{"range":[182,1163],"paddingInner":0.61,"paddingOuter":0.305},"axis":{"orient":"top","domainColor":"#8a8a8a","domainWidth":2,"ticks":false,"labels":false,"grid":false,"title":null}},"y":{"field":"v","type":"quantitative","stack":"zero","scale":{"domain":[0,3.5],"nice":false},"axis":{"orient":"right","offset":-23,"values":[0.5,1,1.5,2,2.5,3],"tickSize":-87,"tickColor":"#8a8a8a","tickWidth":2,"labels":false,"domain":false,"grid":false,"title":null}},"color":{"field":"measure","type":"nominal","scale":{"domain":["Weighted Score","Compliance Level (in %)","Weightage"],"range":["#C4D6A6","#9BBB59","#7E9B47"]},"legend":null},"order":{"field":"rank","type":"quantitative"}}}
],"resolve":{"scale":{"y":"independent"},"axis":{"y":"independent"}}},
{"width":1186,"height":40,"data":{"name":"transfer_h"},"mark":{"type":"text","dy":1},"encoding":{"x":{"field":"cat","type":"nominal","sort":null,"scale":{"range":[182,1163]},"axis":{"orient":"top","tickBand":"extent","grid":true,"gridColor":"#8a8a8a","gridWidth":2,"ticks":false,"labels":false,"domain":true,"domainColor":"#8a8a8a","domainWidth":2,"title":null}},"y":{"datum":0.5,"type":"quantitative","scale":{"domain":[0,1]},"axis":{"orient":"left","domainColor":"#8a8a8a","domainWidth":2,"ticks":false,"labels":false,"grid":false,"title":null}},"text":{"field":"label"}}},
{"width":1186,"height":62,"layer":[
{"data":{"name":"transfer"},"transform":[{"filter":"datum.measure === 'Weighted Score'"}],"mark":{"type":"text","dy":2},"encoding":{"x":{"field":"cat","type":"nominal","sort":null,"scale":{"range":[182,1163]},"axis":{"orient":"top","tickBand":"extent","grid":true,"gridColor":"#8a8a8a","gridWidth":2,"ticks":false,"labels":false,"domain":true,"domainColor":"#8a8a8a","domainWidth":2,"title":null}},"y":{"datum":0.5,"type":"quantitative","scale":{"domain":[0,1]},"axis":{"orient":"left","domainColor":"#8a8a8a","domainWidth":2,"ticks":false,"labels":false,"grid":false,"title":null}},"text":{"field":"v","type":"quantitative","format":".1%"}}},
{"mark":{"type":"text","text":"Weighted|Score","lineBreak":"|","lineHeight":24,"dx":-4.5,"dy":-14.5},"encoding":{"x":{"datum":0.5,"type":"quantitative","scale":{"domain":[0,1],"range":[45,182]},"axis":{"orient":"top","domainColor":"#8a8a8a","domainWidth":2,"ticks":false,"labels":false,"grid":false,"title":null}},"y":{"datum":0.5,"type":"quantitative","scale":{"domain":[0,1]},"axis":{"orient":"left","offset":-45,"domainColor":"#8a8a8a","domainWidth":2,"ticks":false,"labels":false,"grid":false,"title":null}}}},
{"mark":{"type":"square","size":44,"color":"#C4D6A6","opacity":1,"xOffset":-56.5,"yOffset":-14.8},"encoding":{"x":{"datum":0.5,"type":"quantitative","scale":{"domain":[0,1],"range":[45,182]},"axis":null},"y":{"datum":0.5,"type":"quantitative","scale":{"domain":[0,1]},"axis":null}}}
],"resolve":{"scale":{"x":"independent","y":"independent"},"axis":{"x":"independent","y":"independent"}}},
{"width":1186,"height":60,"layer":[
{"data":{"name":"transfer"},"transform":[{"filter":"datum.measure === 'Compliance Level (in %)'"}],"mark":{"type":"text","dy":2},"encoding":{"x":{"field":"cat","type":"nominal","sort":null,"scale":{"range":[182,1163]},"axis":{"orient":"top","tickBand":"extent","grid":true,"gridColor":"#8a8a8a","gridWidth":2,"ticks":false,"labels":false,"domain":true,"domainColor":"#8a8a8a","domainWidth":2,"title":null}},"y":{"datum":0.5,"type":"quantitative","scale":{"domain":[0,1]},"axis":{"orient":"left","domainColor":"#8a8a8a","domainWidth":2,"ticks":false,"labels":false,"grid":false,"title":null}},"text":{"field":"v","type":"quantitative","format":".2%"}}},
{"mark":{"type":"text","text":"Compliance|Level (in %)","lineBreak":"|","lineHeight":24,"dx":7.3,"dy":-13.5},"encoding":{"x":{"datum":0.5,"type":"quantitative","scale":{"domain":[0,1],"range":[45,182]},"axis":{"orient":"top","domainColor":"#8a8a8a","domainWidth":2,"ticks":false,"labels":false,"grid":false,"title":null}},"y":{"datum":0.5,"type":"quantitative","scale":{"domain":[0,1]},"axis":{"orient":"left","offset":-45,"domainColor":"#8a8a8a","domainWidth":2,"ticks":false,"labels":false,"grid":false,"title":null}}}},
{"mark":{"type":"square","size":44,"color":"#9BBB59","opacity":1,"xOffset":-56.5,"yOffset":-14.5},"encoding":{"x":{"datum":0.5,"type":"quantitative","scale":{"domain":[0,1],"range":[45,182]},"axis":null},"y":{"datum":0.5,"type":"quantitative","scale":{"domain":[0,1]},"axis":null}}}
],"resolve":{"scale":{"x":"independent","y":"independent"},"axis":{"x":"independent","y":"independent"}}},
{"width":1186,"height":35,"layer":[
{"data":{"name":"transfer"},"transform":[{"filter":"datum.measure === 'Weightage'"}],"mark":{"type":"text","dy":2},"encoding":{"x":{"field":"cat","type":"nominal","sort":null,"scale":{"range":[182,1163]},"axis":{"orient":"top","tickBand":"extent","grid":true,"gridColor":"#8a8a8a","gridWidth":2,"ticks":false,"labels":false,"domain":true,"domainColor":"#8a8a8a","domainWidth":2,"title":null}},"y":{"datum":0.5,"type":"quantitative","scale":{"domain":[0,1]},"axis":{"orient":"left","domainColor":"#8a8a8a","domainWidth":2,"ticks":false,"labels":false,"grid":false,"title":null}},"text":{"field":"v","type":"quantitative","format":".0%"}}},
{"mark":{"type":"text","text":"Weightage","dx":0.3,"dy":-2},"encoding":{"x":{"datum":0.5,"type":"quantitative","scale":{"domain":[0,1],"range":[45,182]},"axis":{"orient":"top","domainColor":"#8a8a8a","domainWidth":2,"ticks":false,"labels":false,"grid":false,"title":null}},"y":{"datum":0.5,"type":"quantitative","scale":{"domain":[0,1]},"axis":{"orient":"left","offset":-45,"domainColor":"#8a8a8a","domainWidth":2,"ticks":false,"labels":false,"grid":false,"title":null}}}},
{"mark":{"type":"square","size":44,"color":"#7E9B47","opacity":1,"xOffset":-56.5,"yOffset":-4.5},"encoding":{"x":{"datum":0.5,"type":"quantitative","scale":{"domain":[0,1],"range":[45,182]},"axis":null},"y":{"datum":0.5,"type":"quantitative","scale":{"domain":[0,1]},"axis":null}}}
],"resolve":{"scale":{"x":"independent","y":"independent"},"axis":{"x":"independent","y":"independent"}}},
{"width":1186,"height":5,"mark":{"type":"point","opacity":0},"encoding":{"x":{"datum":0,"type":"quantitative","scale":{"domain":[0,1],"range":[45,1163]},"axis":{"orient":"top","domainColor":"#8a8a8a","domainWidth":2,"ticks":false,"labels":false,"grid":false,"title":null}},"y":{"datum":0,"type":"quantitative","scale":{"domain":[0,1]},"axis":{"orient":"left","domainColor":"#8a8a8a","domainWidth":2,"ticks":false,"labels":false,"grid":false,"title":null}}}}
]
}
